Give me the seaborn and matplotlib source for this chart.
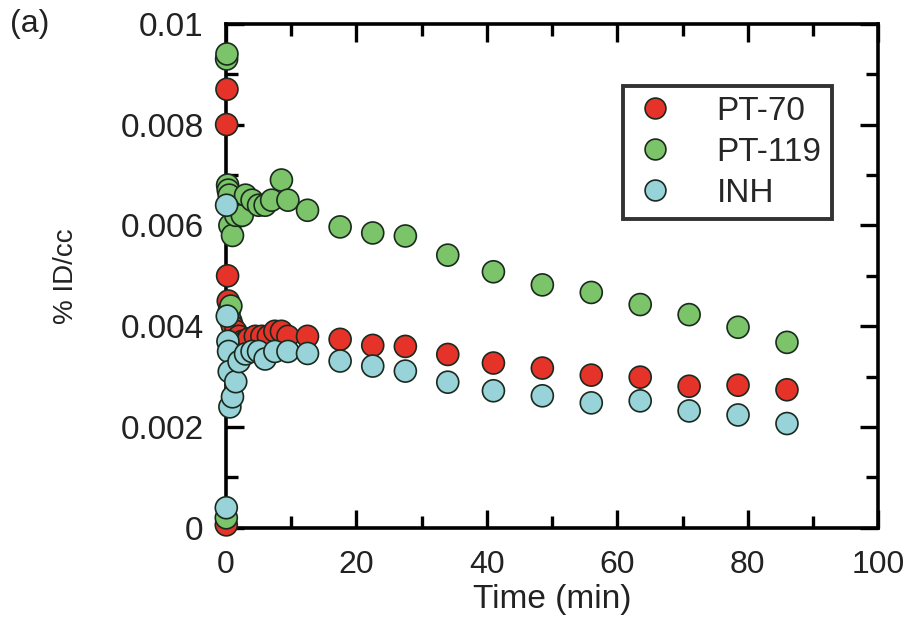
import numpy as np
import pandas as pd
import matplotlib
matplotlib.use("Agg")
import matplotlib.pyplot as plt
import seaborn as sns

# ---- data ----
t_pt70 = [0.05, 0.10, 0.15, 0.25, 0.35, 0.5, 0.75, 1.0, 1.5, 2.0, 2.5, 3.0, 3.5, 4.5, 5.5,
          6.5, 7.5, 8.5, 9.5, 12.5, 17.5, 22.5, 27.5, 34.0, 41.0, 48.5, 56.0, 63.5, 71.0, 78.5, 86.0]
v_pt70 = [0.00006, 0.0080, 0.0087, 0.0050, 0.0045, 0.0043, 0.0041, 0.0040, 0.0039, 0.0038, 0.0037,
          0.0037, 0.00375, 0.0038, 0.0038, 0.0038, 0.0039, 0.0039, 0.0038, 0.0038, 0.00374, 0.00362,
          0.0036, 0.00344, 0.00327, 0.00317, 0.00303, 0.00299, 0.00281, 0.00283, 0.00274]

t_pt119 = [0.05, 0.10, 0.15, 0.25, 0.35, 0.5, 0.6, 0.75, 1.0, 1.5, 2.5, 3.0, 4.0, 5.0, 6.0,
           7.0, 8.5, 9.5, 12.5, 17.5, 22.5, 27.5, 34.0, 41.0, 48.5, 56.0, 63.5, 71.0, 78.5, 86.0]
v_pt119 = [0.0002, 0.0093, 0.0094, 0.0068, 0.0067, 0.0066, 0.0060, 0.0044, 0.0058, 0.0062, 0.0062,
           0.0066, 0.0065, 0.0064, 0.0064, 0.0065, 0.0069, 0.0065, 0.0063, 0.00597, 0.00585, 0.00579,
           0.00541, 0.00508, 0.00482, 0.00467, 0.00443, 0.00423, 0.00398, 0.00368]

t_inh = [0.05, 0.10, 0.2, 0.3, 0.4, 0.5, 0.6, 1.0, 1.5, 2.0, 3.0, 4.0, 5.0, 6.0, 7.5, 9.5,
         12.5, 17.5, 22.5, 27.5, 34.0, 41.0, 48.5, 56.0, 63.5, 71.0, 78.5, 86.0]
v_inh = [0.0004, 0.0064, 0.0042, 0.0037, 0.0035, 0.0031, 0.0024, 0.0026, 0.0029, 0.0033, 0.00345,
         0.0035, 0.0035, 0.00335, 0.0035, 0.0035, 0.00346, 0.00331, 0.00321, 0.00311, 0.00289,
         0.00272, 0.00262, 0.00248, 0.00252, 0.00232, 0.00224, 0.00207]

series_names = ["PT-70", "PT-119", "INH"]
palette = {"PT-70": "#E5332A", "PT-119": "#7BC46A", "INH": "#97D3D8"}

x_ticks = [0, 20, 40, 60, 80, 100]
x_ticklabels = ["0", "20", "40", "60", "80", "100"]
y_ticks = [0, 0.002, 0.004, 0.006, 0.008, 0.01]
y_ticklabels = ["0", "0.002", "0.004", "0.006", "0.008", "0.01"]

df = pd.concat([
    pd.DataFrame({"Time (min)": t_pt70, "%ID/cc": v_pt70, "Tracer": "PT-70"}),
    pd.DataFrame({"Time (min)": t_pt119, "%ID/cc": v_pt119, "Tracer": "PT-119"}),
    pd.DataFrame({"Time (min)": t_inh, "%ID/cc": v_inh, "Tracer": "INH"}),
], ignore_index=True)

sns.set_theme(style="white")
plt.rcParams["font.family"] = ["Liberation Sans", "DejaVu Sans"]

fig = plt.figure(figsize=(9.13, 6.24), dpi=100)
ax = fig.add_axes([0.2475, 0.154, 0.7145, 0.808])

sns.scatterplot(data=df, x="Time (min)", y="%ID/cc", hue="Tracer", hue_order=series_names,
                palette=palette, s=250, edgecolor="#1b2a1e", linewidth=1.2, alpha=1.0,
                ax=ax, legend=True, zorder=3, clip_on=False)

ax.set_xlim(0, 100)
ax.set_ylim(0, 0.01)
ax.set_xticks(x_ticks)
ax.set_xticklabels(x_ticklabels)
ax.set_xticks([10, 30, 50, 70, 90], minor=True)
ax.set_yticks(y_ticks)
ax.set_yticklabels(y_ticklabels)
ax.set_yticks([0.001, 0.003, 0.005, 0.007, 0.009], minor=True)

for sp in ax.spines.values():
    sp.set_visible(True)
    sp.set_color("black")
    sp.set_linewidth(2.6)
    sp.set_zorder(2)

ax.tick_params(which="both", direction="in", top=True, right=True, bottom=True, left=True,
               color="black", width=2.4)
ax.tick_params(which="major", length=13, labelsize=23, pad=16, labelcolor="#222222")
ax.tick_params(axis="y", which="major", labelsize=24)
ax.tick_params(which="minor", length=8.5)

ax.set_xlabel("Time (min)", fontsize=24, labelpad=3, color="#222222")
ax.set_ylabel("% ID/cc", fontsize=20, labelpad=30, color="#222222")

fig.text(0.011, 0.962, "(a)", fontsize=23, ha="left", va="center", color="#222222")

leg = ax.legend(loc="upper left", bbox_to_anchor=(0.609, 0.877), fontsize=24, frameon=True,
                fancybox=False, markerscale=1.0, handlelength=1.3, handletextpad=1.2,
                borderpad=0.3, labelspacing=0.3, borderaxespad=0)
leg.get_frame().set_edgecolor("black")
leg.get_frame().set_linewidth(2.8)
for h in leg.legend_handles:
    h.set_markersize(15)
    h.set_markeredgecolor("#1b2a1e")
    h.set_markeredgewidth(1.2)

fig.savefig("out.png", dpi=100)
